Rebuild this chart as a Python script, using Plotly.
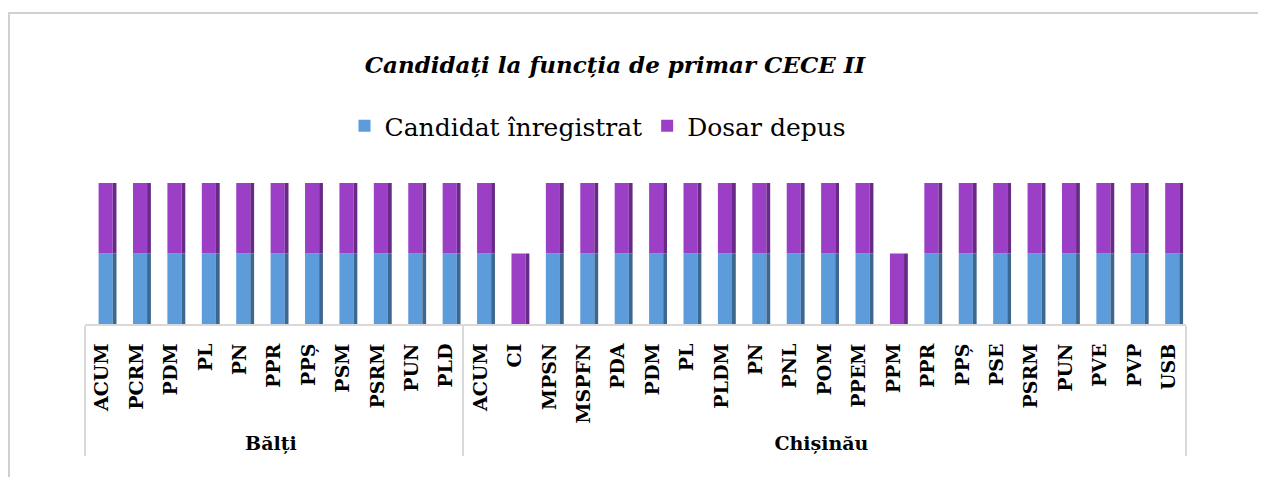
import plotly.graph_objects as go

# Partide pe circumscripții
balti = ["ACUM", "PCRM", "PDM", "PL", "PN", "PPR", "PPȘ", "PSM", "PSRM", "PUN", "PLD"]
chisinau = ["ACUM", "CI", "MPSN", "MSPFN", "PDA", "PDM", "PL", "PLDM", "PN", "PNL",
            "POM", "PPEM", "PPM", "PPR", "PPȘ", "PSE", "PSRM", "PUN", "PVE", "PVP", "USB"]

candidat_balti = [1, 1, 1, 1, 1, 1, 1, 1, 1, 1, 1]
dosar_balti = [1, 1, 1, 1, 1, 1, 1, 1, 1, 1, 1]
candidat_chisinau = [1, 0, 1, 1, 1, 1, 1, 1, 1, 1, 1, 1, 0, 1, 1, 1, 1, 1, 1, 1, 1]
dosar_chisinau = [1, 1, 1, 1, 1, 1, 1, 1, 1, 1, 1, 1, 1, 1, 1, 1, 1, 1, 1, 1, 1]

groups = ["Bălți"] * len(balti) + ["Chișinău"] * len(chisinau)
# <b> face etichetele din Chișinău distincte, altfel plotly le reordonează
parties = balti + [f"<b>{p}</b>" for p in chisinau]
x = [groups, parties]
candidat = candidat_balti + candidat_chisinau
dosar = dosar_balti + dosar_chisinau

BLUE, BLUE_SIDE = "#5d9cdb", "#3b6791"
PURPLE, PURPLE_SIDE = "#9b40c6", "#682a86"
serif = "DejaVu Serif"

fig = go.Figure()

# fața barelor + latura întunecată (efect 3D)
fig.add_trace(go.Bar(x=x, y=candidat, base=0, width=0.41, offset=-0.105,
                     marker=dict(color=BLUE, line=dict(width=0)),
                     name="Candidat înregistrat"))
fig.add_trace(go.Bar(x=x, y=candidat, base=0, width=0.11, offset=0.305,
                     marker=dict(color=BLUE_SIDE, line=dict(width=0)),
                     showlegend=False))
fig.add_trace(go.Bar(x=x, y=dosar, base=candidat, width=0.41, offset=-0.105,
                     marker=dict(color=PURPLE, line=dict(width=0)),
                     name="Dosar depus"))
fig.add_trace(go.Bar(x=x, y=dosar, base=candidat, width=0.11, offset=0.305,
                     marker=dict(color=PURPLE_SIDE, line=dict(width=0)),
                     showlegend=False))

fig.update_layout(
    width=1266, height=477,
    barmode="overlay",
    paper_bgcolor="white", plot_bgcolor="white",
    margin=dict(l=77, r=88, t=175, b=161, autoexpand=False),
    title=dict(text="<b><i>Candidați la funcția de primar CECE II</i></b>",
               font=dict(family=serif, size=23, color="black"),
               xref="container", x=607 / 1266, xanchor="center",
               yref="container", y=1 - 57 / 477, yanchor="middle"),
    legend=dict(orientation="h", xref="container", x=590 / 1266, xanchor="center",
                yref="container", y=1 - 118 / 477, yanchor="middle",
                font=dict(family=serif, size=25, color="black"),
                traceorder="normal"),
    showlegend=True,
    hovermode=False,
)

fig.update_xaxes(type="multicategory", tickangle=-90, automargin=False,
                 ticklabelstandoff=10,
                 tickfont=dict(family=serif, size=19, color="black", weight="bold"),
                 showline=True, linecolor="#d9d9d9", linewidth=2,
                 showdividers=True, dividercolor="#d9d9d9", dividerwidth=2,
                 ticks="", showgrid=False)
fig.update_yaxes(range=[0, 2], visible=False, showgrid=False)

# chenarul diagramei
fig.add_shape(type="rect", xref="paper", yref="paper",
              x0=(1 - 77) / 1101, x1=1.2, y0=-3, y1=(316 - 5) / 141,
              line=dict(color="#d0d0d0", width=2), layer="below")

fig.write_html("out.html")
